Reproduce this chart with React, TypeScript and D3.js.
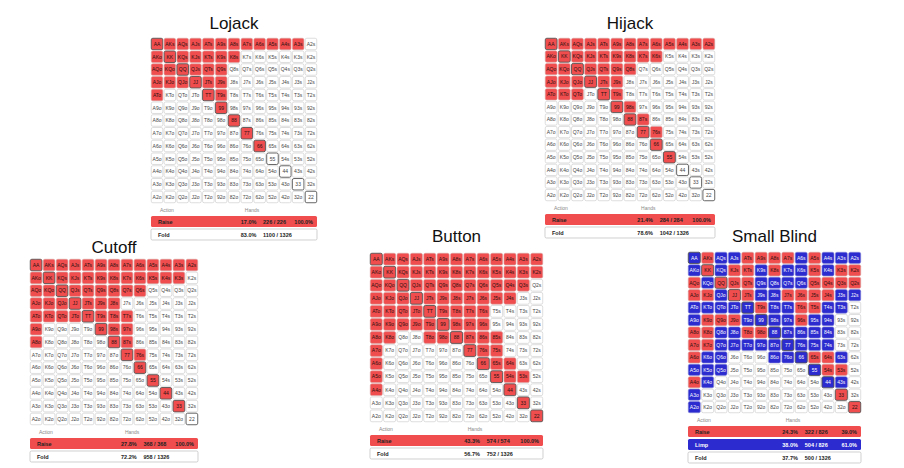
import React from 'react';
import * as d3 from 'd3';

const RANKS = ['A', 'K', 'Q', 'J', 'T', '9', '8', '7', '6', '5', '4', '3', '2'];

const POSITIONS = ['Lojack', 'Hijack', 'Cutoff', 'Button', 'Small Blind'];

const LOJACK_RAISE = [
  'AA', 'KK', 'QQ', 'JJ', 'TT', '99', '88', '77', '66',
  'AKs', 'AQs', 'AJs', 'ATs', 'A9s', 'A8s', 'A7s', 'A6s', 'A5s', 'A4s', 'A3s',
  'KQs', 'KJs', 'KTs', 'K9s', 'K8s', 'QJs', 'QTs', 'Q9s', 'JTs', 'J9s', 'T9s',
  'AKo', 'AQo', 'AJo', 'ATo', 'KQo', 'KJo', 'QJo',
];

const HIJACK_RAISE = [
  'AA', 'KK', 'QQ', 'JJ', 'TT', '99', '88', '77', '66', '55',
  'AKs', 'AQs', 'AJs', 'ATs', 'A9s', 'A8s', 'A7s', 'A6s', 'A5s', 'A4s', 'A3s', 'A2s',
  'KQs', 'KJs', 'KTs', 'K9s', 'K8s', 'K7s', 'K6s', 'QJs', 'QTs', 'Q9s', 'Q8s',
  'JTs', 'J9s', 'T9s', '98s', '87s', '76s',
  'AKo', 'AQo', 'AJo', 'ATo', 'KQo', 'KJo', 'KTo', 'QJo', 'QTo',
];

const CUTOFF_RAISE = [
  'AA', 'KK', 'QQ', 'JJ', 'TT', '99', '88', '77', '66', '55', '44', '33',
  'AKs', 'AQs', 'AJs', 'ATs', 'A9s', 'A8s', 'A7s', 'A6s', 'A5s', 'A4s', 'A3s', 'A2s',
  'KQs', 'KJs', 'KTs', 'K9s', 'K8s', 'K7s', 'K6s', 'K5s', 'K4s', 'K3s',
  'QJs', 'QTs', 'Q9s', 'Q8s', 'Q7s', 'Q6s', 'JTs', 'J9s', 'J8s', 'T9s', 'T8s', 'T7s',
  '98s', '97s', '87s', '76s',
  'AKo', 'AQo', 'AJo', 'ATo', 'A9o', 'A8o', 'KQo', 'KJo', 'KTo', 'QJo', 'QTo', 'JTo',
];

const BUTTON_RAISE = [
  'AA', 'KK', 'QQ', 'JJ', 'TT', '99', '88', '77', '66', '55', '44', '33', '22',
  'AKs', 'AQs', 'AJs', 'ATs', 'A9s', 'A8s', 'A7s', 'A6s', 'A5s', 'A4s', 'A3s', 'A2s',
  'KQs', 'KJs', 'KTs', 'K9s', 'K8s', 'K7s', 'K6s', 'K5s', 'K4s', 'K3s', 'K2s',
  'QJs', 'QTs', 'Q9s', 'Q8s', 'Q7s', 'Q6s', 'Q5s', 'Q4s', 'Q3s',
  'JTs', 'J9s', 'J8s', 'J7s', 'J6s', 'J5s', 'J4s', 'T9s', 'T8s', 'T7s', 'T6s',
  '98s', '97s', '96s', '87s', '86s', '85s', '76s', '75s', '65s', '64s', '54s', '53s',
  'AKo', 'AQo', 'AJo', 'ATo', 'A9o', 'A8o', 'A7o', 'A6o', 'A5o', 'A4o',
  'KQo', 'KJo', 'KTo', 'K9o', 'K8o', 'QJo', 'QTo', 'Q9o', 'JTo', 'J9o', 'T9o', 'T8o', '98o',
];

const SB_RAISE = [
  'KK', 'QQ', 'JJ', '33', '22',
  'AKs', 'ATs', 'A9s', 'A8s', 'A7s', 'A5s', 'KJs', 'KTs', 'K8s', 'K5s', 'K3s', 'K2s',
  'QJs', 'QTs', 'Q5s', 'Q4s', 'Q3s', 'Q2s', 'JTs', 'J7s', 'J6s', 'J5s', 'J4s',
  'T9s', 'T6s', 'T5s', '96s', '65s', '64s', '54s', '53s',
  'AQo', 'AJo', 'KJo', 'K9o', 'Q9o', 'J9o', 'A8o', 'K8o', 'T8o', '98o', 'A7o', 'K7o', 'A6o', 'A4o',
];

const SB_LIMP = [
  'AA', 'TT', '99', '88', '77', '66', '55', '44',
  'AQs', 'AJs', 'A6s', 'A4s', 'A3s', 'A2s', 'KQs', 'K9s', 'K7s', 'K6s', 'K4s',
  'Q9s', 'Q8s', 'Q7s', 'Q6s', 'J9s', 'J8s', 'J3s', 'J2s', 'T8s', 'T7s', 'T4s', 'T3s',
  '98s', '97s', '95s', '94s', '87s', '86s', '85s', '84s', '76s', '75s', '74s', '63s', '43s',
  'AKo', 'KQo', 'QJo', 'ATo', 'KTo', 'QTo', 'JTo', 'A9o', 'T9o', 'Q8o', 'J8o',
  'Q7o', 'J7o', 'T7o', '97o', '87o', 'K6o', 'Q6o', '86o', '76o', 'A5o', 'K5o', 'Q5o', 'K4o', 'A3o', 'A2o',
];

const RAISE_BY_POSITION = [LOJACK_RAISE, HIJACK_RAISE, CUTOFF_RAISE, BUTTON_RAISE, SB_RAISE];
const LIMP_BY_POSITION = [[], [], [], [], SB_LIMP];

const ACTION_NAMES = [
  ['Raise', 'Fold'],
  ['Raise', 'Fold'],
  ['Raise', 'Fold'],
  ['Raise', 'Fold'],
  ['Raise', 'Limp', 'Fold'],
];
const ACTION_PCTS = [
  ['17.0%', '83.0%'],
  ['21.4%', '78.6%'],
  ['27.8%', '72.2%'],
  ['43.3%', '56.7%'],
  ['24.3%', '38.0%', '37.7%'],
];
const ACTION_COMBOS = [
  ['226 / 226', '1100 / 1326'],
  ['284 / 284', '1042 / 1326'],
  ['368 / 368', '958 / 1326'],
  ['574 / 574', '752 / 1326'],
  ['322 / 826', '504 / 826', '500 / 1326'],
];
const ACTION_SHARES = [
  ['100.0%', ''],
  ['100.0%', ''],
  ['100.0%', ''],
  ['100.0%', ''],
  ['39.0%', '61.0%', ''],
];

// layout (not data)
const LAYOUT = [
  { x: 151, y: 38, w: 166, h: 165, titleY: 29 },
  { x: 545, y: 38, w: 170, h: 163, titleY: 29 },
  { x: 30, y: 259, w: 168, h: 166, titleY: 253 },
  { x: 370, y: 253, w: 173, h: 169, titleY: 242 },
  { x: 688, y: 252, w: 173, h: 161, titleY: 242 },
];

const RED = '#f04e4e';
const BLUE = '#2b2bcf';
const FONT = 'Liberation Sans, Arial, sans-serif';

function handLabel(i: number, j: number) {
  if (i === j) return RANKS[i] + RANKS[j];
  if (j > i) return RANKS[i] + RANKS[j] + 's';
  return RANKS[j] + RANKS[i] + 'o';
}

function Panel({ idx }: { idx: number }) {
  const L = LAYOUT[idx];
  const raise = new Set(RAISE_BY_POSITION[idx]);
  const limp = new Set(LIMP_BY_POSITION[idx]);
  const xs = d3.scaleBand<number>().domain(d3.range(13)).range([L.x, L.x + L.w]).paddingInner(0.1).paddingOuter(0.02);
  const ys = d3.scaleBand<number>().domain(d3.range(13)).range([L.y, L.y + L.h]).paddingInner(0.1).paddingOuter(0.02);
  const cells: any[] = [];
  for (let i = 0; i < 13; i++) {
    for (let j = 0; j < 13; j++) {
      const lab = handLabel(i, j);
      const isR = raise.has(lab);
      const isL = limp.has(lab);
      const fill = isR ? RED : isL ? BLUE : '#ffffff';
      const txt = isL ? '#ffffff' : isR ? '#2a1010' : '#444';
      const pair = i === j;
      cells.push(
        <g key={lab}>
          <rect
            x={xs(j)}
            y={ys(i)}
            width={xs.bandwidth()}
            height={ys.bandwidth()}
            rx={1.6}
            fill={fill}
            stroke={pair ? '#555' : isR ? '#d9a0a0' : isL ? '#8888d8' : '#c8c8c8'}
            strokeWidth={pair ? 0.9 : 0.6}
          />
          <text
            x={(xs(j) as number) + xs.bandwidth() / 2}
            y={(ys(i) as number) + ys.bandwidth() / 2 + 1.8}
            textAnchor="middle"
            fontSize={5}
            fontFamily={FONT}
            fill={txt}
          >
            {lab}
          </text>
        </g>
      );
    }
  }
  const bottom = L.y + L.h;
  const names = ACTION_NAMES[idx];
  const rowH = 11;
  const rowGap = 13;
  return (
    <g>
      <text x={L.x + L.w / 2} y={L.titleY} textAnchor="middle" fontSize={17} fontFamily={FONT} fill="#111">
        {POSITIONS[idx]}
      </text>
      {cells}
      <text x={L.x + 9} y={bottom + 9} fontSize={5} fontFamily={FONT} fill="#888">Action</text>
      <text x={L.x + L.w * 0.565} y={bottom + 9} fontSize={5} fontFamily={FONT} fill="#888">Hands</text>
      {names.map((n, k) => {
        const top = bottom + 13 + k * rowGap;
        const bg = n === 'Raise' ? RED : n === 'Limp' ? BLUE : '#ffffff';
        const tc = n === 'Limp' ? '#ffffff' : '#222';
        return (
          <g key={n}>
            <rect x={L.x} y={top} width={L.w} height={rowH} rx={1.5} fill={bg} stroke={n === 'Fold' ? '#bbb' : 'none'} strokeWidth={0.7} />
            <text x={L.x + 7} y={top + rowH / 2 + 2} fontSize={5.5} fontWeight={600} fontFamily={FONT} fill={tc}>{n}</text>
            <text x={L.x + L.w * 0.635} y={top + rowH / 2 + 2} textAnchor="end" fontSize={5.5} fontWeight={600} fontFamily={FONT} fill={tc}>{ACTION_PCTS[idx][k]}</text>
            <text x={L.x + L.w * 0.675} y={top + rowH / 2 + 2} fontSize={5.5} fontWeight={600} fontFamily={FONT} fill={tc}>{ACTION_COMBOS[idx][k]}</text>
            <text x={L.x + L.w - 4} y={top + rowH / 2 + 2} textAnchor="end" fontSize={5.5} fontWeight={600} fontFamily={FONT} fill={tc}>{ACTION_SHARES[idx][k]}</text>
          </g>
        );
      })}
    </g>
  );
}

export default function App() {
  return (
    <svg width={904} height={468} style={{ position: 'absolute', left: 0, top: 0, background: '#fff' }}>
      {POSITIONS.map((p, i) => (
        <Panel key={p} idx={i} />
      ))}
    </svg>
  );
}
